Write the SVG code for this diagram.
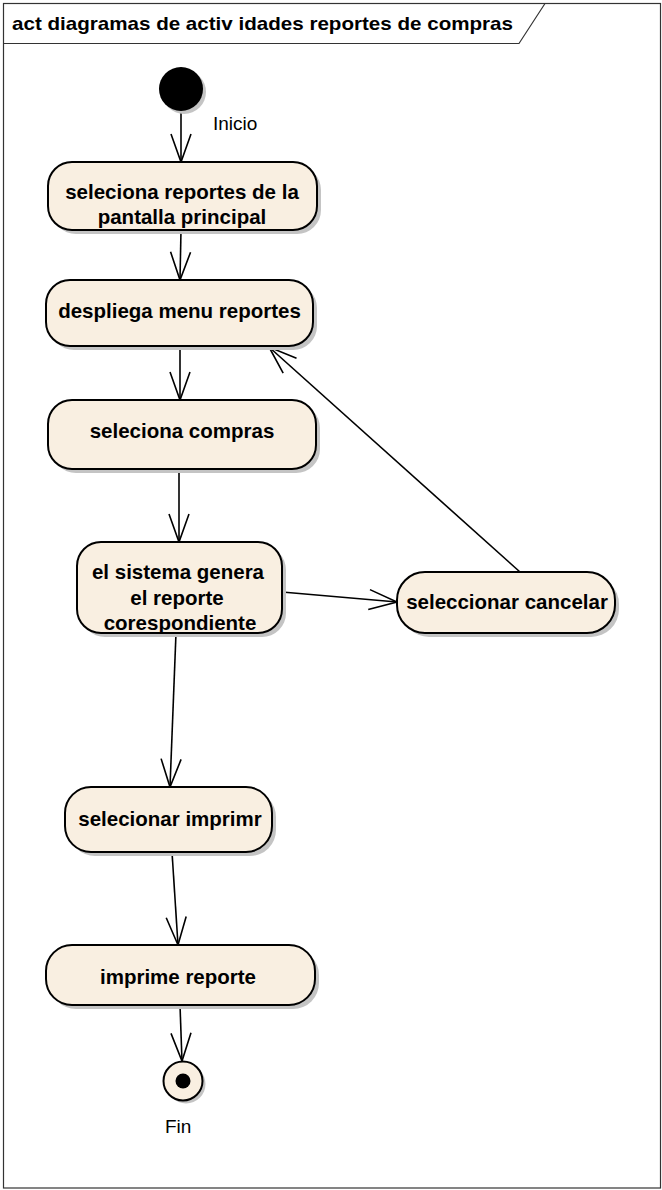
<svg xmlns="http://www.w3.org/2000/svg" width="662" height="1190" viewBox="0 0 662 1190">
<style>
.frame{fill:none;stroke:#333;stroke-width:1.2}
.act{fill:#f9efe1;stroke:#000;stroke-width:2}
.sh{fill:#c4c4c4;stroke:none}
.t{font-family:"Liberation Sans",Arial,sans-serif;font-weight:bold;font-size:20.5px;fill:#000;text-anchor:middle}
.lbl{font-family:"Liberation Sans",Arial,sans-serif;font-size:19px;fill:#000}
.title{font-family:"Liberation Sans",Arial,sans-serif;font-weight:bold;font-size:19px;fill:#000}
.edge{fill:none;stroke:#000;stroke-width:1.6}
</style>
<defs>
<marker id="open" markerUnits="userSpaceOnUse" markerWidth="32" markerHeight="26" viewBox="-30 -13 32 26" refX="0" refY="0" orient="auto" overflow="visible">
<path d="M-28,-10 L0,0 L-28,10" fill="none" stroke="#000" stroke-width="1.6"/>
</marker>
</defs>
<rect width="662" height="1190" fill="#fff"/>
<g id="frame">
<rect class="frame" x="3.5" y="3.5" width="657" height="1184.5"/>
<path class="frame" d="M3.5,43.5 H519 L545,3.5"/>
<text class="title" x="12" y="30" textLength="501" lengthAdjust="spacingAndGlyphs">act diagramas de activ idades reportes de compras</text>
</g>
<g id="connectors">
<line class="edge" x1="181" y1="111" x2="181" y2="162" marker-end="url(#open)"/>
<line class="edge" x1="181" y1="230" x2="180" y2="280" marker-end="url(#open)"/>
<line class="edge" x1="180" y1="346" x2="180" y2="400" marker-end="url(#open)"/>
<line class="edge" x1="179" y1="469" x2="179" y2="542" marker-end="url(#open)"/>
<line class="edge" x1="282" y1="592" x2="397" y2="602" marker-end="url(#open)"/>
<line class="edge" x1="520" y1="572" x2="269" y2="347" marker-end="url(#open)"/>
<line class="edge" x1="176" y1="633" x2="170" y2="787" marker-end="url(#open)"/>
<line class="edge" x1="172" y1="852" x2="178" y2="945" marker-end="url(#open)"/>
<line class="edge" x1="180" y1="1005" x2="182" y2="1061" marker-end="url(#open)"/>
</g>
<g id="start">
<circle class="sh" cx="184" cy="92" r="22"/>
<circle cx="181" cy="89" r="22" fill="#000"/>
<text class="lbl" x="213" y="130">Inicio</text>
</g>
<g id="n1">
<rect class="sh" x="52" y="166" width="269" height="68" rx="24"/>
<rect class="act" x="48" y="162" width="269" height="68" rx="24"/>
<text class="t" x="182" y="199">seleciona reportes de la</text>
<text class="t" x="182" y="224">pantalla principal</text>
</g>
<g id="n2">
<rect class="sh" x="50" y="284" width="267" height="66" rx="24"/>
<rect class="act" x="46" y="280" width="267" height="66" rx="24"/>
<text class="t" x="179.5" y="318">despliega menu reportes</text>
</g>
<g id="n3">
<rect class="sh" x="52" y="404" width="268" height="69" rx="24"/>
<rect class="act" x="48" y="400" width="268" height="69" rx="24"/>
<text class="t" x="182" y="438">seleciona compras</text>
</g>
<g id="n4">
<rect class="sh" x="81" y="546" width="205" height="91" rx="24"/>
<rect class="act" x="77" y="542" width="205" height="91" rx="24"/>
<text class="t" x="178" y="579">el sistema genera</text>
<text class="t" x="177" y="605">el reporte</text>
<text class="t" x="180" y="630">corespondiente</text>
</g>
<g id="n5">
<rect class="sh" x="401" y="576" width="218" height="61" rx="28"/>
<rect class="act" x="397" y="572" width="218" height="61" rx="28"/>
<text class="t" x="507" y="609">seleccionar cancelar</text>
</g>
<g id="n6">
<rect class="sh" x="69" y="791" width="207" height="65" rx="26"/>
<rect class="act" x="65" y="787" width="207" height="65" rx="26"/>
<text class="t" x="170" y="826">selecionar imprimr</text>
</g>
<g id="n7">
<rect class="sh" x="50" y="949" width="269" height="60" rx="26"/>
<rect class="act" x="46" y="945" width="269" height="60" rx="26"/>
<text class="t" x="178" y="984">imprime reporte</text>
</g>
<g id="end">
<circle class="sh" cx="186" cy="1084" r="19.5"/>
<circle cx="183" cy="1081" r="19.5" fill="#f9efe1" stroke="#000" stroke-width="2"/>
<circle cx="183" cy="1081" r="7.5" fill="#000"/>
<text class="lbl" x="165" y="1133">Fin</text>
</g>
</svg>
